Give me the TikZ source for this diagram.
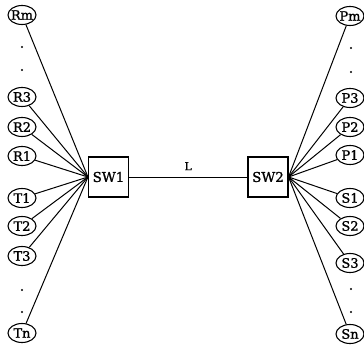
\documentclass[tikz,border=0pt]{standalone}
\usepackage{fontspec}
\setmainfont{DejaVu Serif}[FakeBold=1.2]
\usetikzlibrary{shapes.geometric}
\begin{document}
\begin{tikzpicture}[x=1pt,y=-1pt,
  host/.style={ellipse,draw,line width=1.1pt,minimum width=28pt,minimum height=19pt,inner sep=0pt},
  hostlabel/.style={font=\fontsize{13}{13}\selectfont},
  switchbox/.style={draw,line width=1.1pt,minimum width=40pt,minimum height=40pt,inner sep=0pt,font=\fontsize{13.5}{13.5}\selectfont},
  dot/.style={circle,fill,inner sep=0pt,minimum size=2.2pt},
  link/.style={line width=1pt}]
\useasboundingbox (0,0) rectangle (364,350);

% switches and trunk line
\node[switchbox] (sw1) at (108.5,177) {SW1};
\node[switchbox] (sw2) at (268,177) {SW2};
\draw[link] (sw1.east) -- node[above=3pt,font=\fontsize{11}{11}\selectfont] {L} (sw2.west);

% hosts on the left side
\foreach \n/\t/\y in {rm/Rm/15, r3/R3/97, r2/R2/127, r1/R1/156,
                      t1/T1/198, t2/T2/226, t3/T3/256, tn/Tn/333}{
  \node[host,label={[hostlabel]center:\t}] (\n) at (22,\y) {};
  \draw[link] (sw1.west) -- (\n);
}
% hosts on the right side
\foreach \n/\t/\y in {pm/Pm/16, p3/P3/98, p2/P2/127, p1/P1/155,
                      s1/S1/198, s2/S2/226, s3/S3/263, sn/Sn/334}{
  \node[host,label={[hostlabel]center:\t}] (\n) at (350,\y) {};
  \draw[link] (sw2.east) -- (\n);
}

% ellipsis dots
\node[dot] (la) at (22,47) {};
\node[dot] (lb) at (22,70) {};
\node[dot] (lc) at (22,290) {};
\node[dot] (ld) at (22,312) {};
\node[dot] (ra) at (351,48) {};
\node[dot] (rb) at (351,72) {};
\node[dot] (rc) at (351,289) {};
\node[dot] (rd) at (351,312) {};
\end{tikzpicture}
\end{document}
